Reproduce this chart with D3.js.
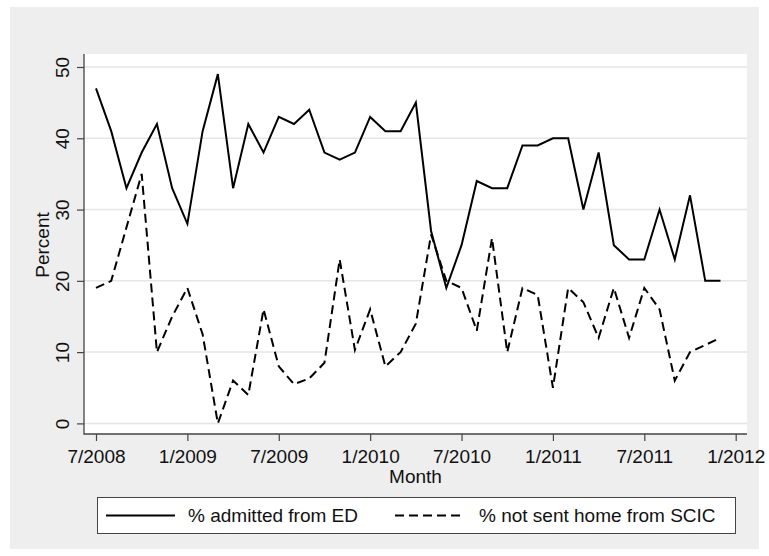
<!DOCTYPE html>
<html>
<head>
<meta charset="utf-8">
<script src="https://cdn.jsdelivr.net/npm/d3@7"></script>
<style>
  html, body { margin: 0; padding: 0; background: #fff; }
  svg { display: block; font-family: "Liberation Sans", Arial, Helvetica, sans-serif; }
</style>
</head>
<body>
<div id="chart"></div>
<script>
// monthly series, 7/2008 .. 12/2011
const months = [
  "7/2008", "8/2008", "9/2008", "10/2008", "11/2008", "12/2008",
  "1/2009", "2/2009", "3/2009", "4/2009", "5/2009", "6/2009",
  "7/2009", "8/2009", "9/2009", "10/2009", "11/2009", "12/2009",
  "1/2010", "2/2010", "3/2010", "4/2010", "5/2010", "6/2010",
  "7/2010", "8/2010", "9/2010", "10/2010", "11/2010", "12/2010",
  "1/2011", "2/2011", "3/2011", "4/2011", "5/2011", "6/2011",
  "7/2011", "8/2011", "9/2011", "10/2011", "11/2011", "12/2011"
];
const admittedED = [
  47, 41, 33, 38, 42, 33,
  28, 41, 49, 33, 42, 38,
  43, 42, 44, 38, 37, 38,
  43, 41, 41, 45, 27, 19,
  25, 34, 33, 33, 39, 39,
  40, 40, 30, 38, 25, 23,
  23, 30, 23, 32, 20, 20
];
const notSentHome = [
  19, 20, 27.5, 35, 10, 15,
  19, 12.5, 0, 6, 4, 16,
  8, 5.5, 6.3, 8.5, 23, 10.3,
  16, 8, 10, 14, 26.5, 20,
  19, 13, 26, 10, 19, 18,
  5, 19, 17, 12, 19, 12,
  19, 16, 6, 10, 11, 12
];
const xTickMonths = [0, 6, 12, 18, 24, 30, 36, 42];
const xTickLabels = ["7/2008", "1/2009", "7/2009", "1/2010", "7/2010", "1/2011", "7/2011", "1/2012"];
const yTicks = [0, 10, 20, 30, 40, 50];
const seriesNames = ["% admitted from ED", "% not sent home from SCIC"];

const W = 769, H = 556;
const plot = { left: 84, right: 747, top: 54, bottom: 434 };
const fontSize = 19;

const svg = d3.select("#chart").append("svg")
  .attr("width", W)
  .attr("height", H)
  .attr("viewBox", `0 0 ${W} ${H}`);

// backgrounds
svg.append("rect").attr("width", W).attr("height", H).attr("fill", "#fff");
svg.append("rect")
  .attr("x", 10).attr("y", 7)
  .attr("width", 749).attr("height", 542)
  .attr("fill", "#eeeeee");
svg.append("rect")
  .attr("x", plot.left).attr("y", plot.top)
  .attr("width", plot.right - plot.left)
  .attr("height", plot.bottom - plot.top)
  .attr("fill", "#fff");

const x = d3.scaleLinear().domain([0, 42]).range([96, 735.7]);
const y = d3.scaleLinear().domain([0, 50]).range([423.4, 67]);

// gridlines
svg.append("g")
  .selectAll("line")
  .data(yTicks)
  .join("line")
  .attr("x1", plot.left)
  .attr("x2", plot.right)
  .attr("y1", (d) => y(d))
  .attr("y2", (d) => y(d))
  .attr("stroke", "#e6e6e6")
  .attr("stroke-width", 1.5);

// axes
const xAxis = svg.append("g")
  .attr("transform", `translate(0,${plot.bottom})`)
  .call(d3.axisBottom(x)
    .tickValues(xTickMonths)
    .tickFormat((d, i) => xTickLabels[i])
    .tickSize(7)
    .tickSizeOuter(0)
    .tickPadding(9));
xAxis.select(".domain").remove();
xAxis.selectAll("line").attr("stroke", "#444").attr("stroke-width", 1.2);
xAxis.selectAll("text")
  .attr("font-size", fontSize)
  .attr("font-family", null)
  .attr("fill", "#111");

const yAxis = svg.append("g")
  .attr("transform", `translate(${plot.left},0)`)
  .call(d3.axisLeft(y).tickValues(yTicks).tickSize(7).tickSizeOuter(0));
yAxis.select(".domain").remove();
yAxis.selectAll("line").attr("stroke", "#444").attr("stroke-width", 1.2);
yAxis.selectAll("text")
  .attr("font-size", fontSize)
  .attr("font-family", null)
  .attr("fill", "#111")
  .attr("x", 0)
  .attr("dy", 0)
  .attr("text-anchor", "middle")
  .attr("transform", "translate(-15,0) rotate(-90)");

svg.append("path")
  .attr("d", `M${plot.left},${plot.top}V${plot.bottom}H${plot.right}`)
  .attr("fill", "none")
  .attr("stroke", "#444")
  .attr("stroke-width", 1.3);

// axis titles
svg.append("text")
  .attr("transform", `translate(49,${(plot.top + plot.bottom) / 2 + 1}) rotate(-90)`)
  .attr("text-anchor", "middle")
  .attr("font-size", fontSize)
  .attr("fill", "#111")
  .text("Percent");
svg.append("text")
  .attr("x", (plot.left + plot.right) / 2)
  .attr("y", 483)
  .attr("text-anchor", "middle")
  .attr("font-size", fontSize)
  .attr("fill", "#111")
  .text("Month");

// series
const line = d3.line().x((d, i) => x(i)).y((d) => y(d));
svg.append("path")
  .datum(admittedED)
  .attr("d", line)
  .attr("fill", "none")
  .attr("stroke", "#000")
  .attr("stroke-width", 2)
  .attr("stroke-linejoin", "miter");
svg.append("path")
  .datum(notSentHome)
  .attr("d", line)
  .attr("fill", "none")
  .attr("stroke", "#000")
  .attr("stroke-width", 2)
  .attr("stroke-dasharray", "9,5");

// legend
const legend = svg.append("g");
legend.append("rect")
  .attr("x", 97.5).attr("y", 497.5)
  .attr("width", 638).attr("height", 36)
  .attr("fill", "#fff")
  .attr("stroke", "#444")
  .attr("stroke-width", 1);
const legendItems = [
  { name: seriesNames[0], x1: 106, x2: 175, tx: 188, dash: null },
  { name: seriesNames[1], x1: 395, x2: 465, tx: 479, dash: "9,5" }
];
legendItems.forEach((it) => {
  legend.append("line")
    .attr("x1", it.x1).attr("x2", it.x2)
    .attr("y1", 515.5).attr("y2", 515.5)
    .attr("stroke", "#000")
    .attr("stroke-width", 2)
    .attr("stroke-dasharray", it.dash);
  legend.append("text")
    .attr("x", it.tx)
    .attr("y", 522)
    .attr("font-size", fontSize)
    .attr("fill", "#111")
    .text(it.name);
});
</script>
</body>
</html>
